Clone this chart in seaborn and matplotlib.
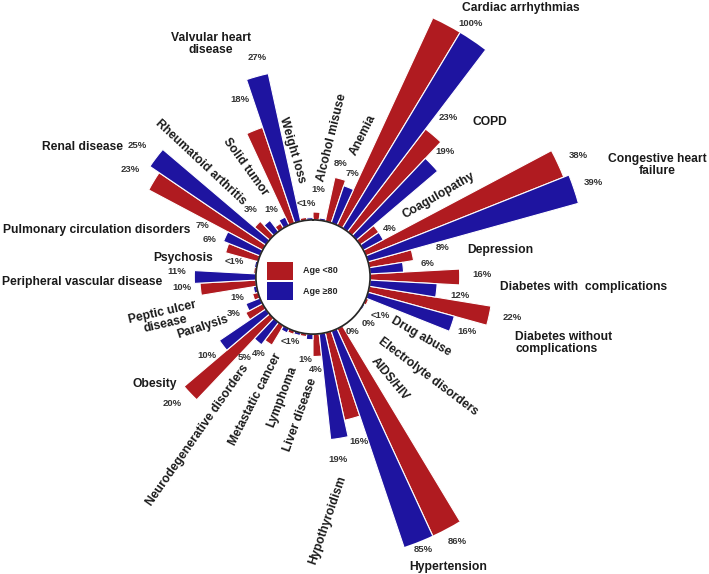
import numpy as np
import matplotlib
matplotlib.use("Agg")
import matplotlib.pyplot as plt
import seaborn as sns
from matplotlib.patches import Patch

# comorbidities, clockwise from the top
comorbidities = [
    "Alcohol misuse", "Anemia", "Cardiac arrhythmias", "COPD", "Coagulopathy",
    "Congestive heart failure", "Depression", "Diabetes with complications",
    "Diabetes without complications", "Drug abuse", "Electrolyte disorders",
    "AIDS/HIV", "Hypertension", "Hypothyroidism", "Liver disease", "Lymphoma",
    "Metastatic cancer", "Neurodegenerative disorders", "Obesity", "Paralysis",
    "Peptic ulcer disease", "Peripheral vascular disease", "Psychosis",
    "Pulmonary circulation disorders", "Renal disease", "Rheumatoid arthritis",
    "Solid tumor", "Valvular heart disease", "Weight loss",
]
# prevalence (%)
age_under_80 = [1.4, 8, 100, 23, 4, 38, 8, 16, 22, 0.5, 0, 0, 86, 16, 4, 0.5,
                0.6, 4, 20, 3.4, 1, 10, 0.4, 6, 23, 3.5, 1, 18, 0.5]
age_80_plus = [0.4, 7, 100, 19, 4, 39, 6, 12, 16, 0.3, 0, 0, 85, 19, 1, 0.5,
               0.8, 5, 10, 2.7, 0.6, 11, 0.4, 7, 25, 2.5, 1.6, 27, 0.4]
series_names = ["Age <80", "Age \u226580"]

# percentage labels as printed on the chart
value_labels = [
    ("1%", 318, 190), ("<1%", 306, 203), ("8%", 341, 163), ("7%", 353, 173),
    ("100%", 471, 23), ("23%", 448, 118), ("19%", 445, 152), ("4%", 390, 228),
    ("38%", 578, 155), ("39%", 593, 182), ("8%", 443, 248), ("6%", 428, 263),
    ("16%", 482, 275), ("12%", 460, 295), ("22%", 512, 318), ("16%", 467, 332),
    ("<1%", 380, 315), ("0%", 369, 323), ("0%", 353, 332),
    ("86%", 457, 542), ("85%", 423, 550), ("16%", 359, 442), ("19%", 338, 460),
    ("1%", 305, 359), ("4%", 316, 369), ("<1%", 290, 342),
    ("4%", 259, 353), ("5%", 245, 357), ("10%", 207, 356), ("20%", 172, 403),
    ("3%", 234, 313), ("1%", 237, 297), ("11%", 177, 272), ("10%", 182, 288),
    ("<1%", 234, 262), ("7%", 203, 225), ("6%", 210, 240),
    ("25%", 137, 145), ("23%", 130, 170), ("3%", 251, 210), ("1%", 271, 210),
    ("27%", 257, 58), ("18%", 240, 100),
]

# category label placement: display text, x px, y px, rotation, ha
label_layout = {
    "Alcohol misuse": ("Alcohol misuse", 332, 138, 76, "center"),
    "Anemia": ("Anemia", 363, 135, 63, "center"),
    "Cardiac arrhythmias": ("Cardiac arrhythmias", 521, 8, 0, "center"),
    "COPD": ("COPD", 490, 122, 0, "center"),
    "Coagulopathy": ("Coagulopathy", 439, 195, 30, "center"),
    "Congestive heart failure": ("Congestive heart\nfailure", 657, 165, 0, "center"),
    "Depression": ("Depression", 500, 250, 0, "center"),
    "Diabetes with complications": ("Diabetes with  complications", 584, 287, 0, "center"),
    "Diabetes without complications": ("Diabetes without\ncomplications", 515, 343, 0, "left"),
    "Drug abuse": ("Drug abuse", 421, 337, -30, "center"),
    "Electrolyte disorders": ("Electrolyte disorders", 428, 377, -37, "center"),
    "AIDS/HIV": ("AIDS/HIV", 390, 379, -50, "center"),
    "Hypertension": ("Hypertension", 448, 567, 0, "center"),
    "Hypothyroidism": ("Hypothyroidism", 328, 520, 71, "center"),
    "Liver disease": ("Liver disease", 300, 415, 70, "center"),
    "Lymphoma": ("Lymphoma", 282, 397, 69, "center"),
    "Metastatic cancer": ("Metastatic cancer", 255, 399, 63, "center"),
    "Neurodegenerative disorders": ("Neurodegenerative disorders", 198, 435, 55, "center"),
    "Obesity": ("Obesity", 155, 384, 0, "center"),
    "Paralysis": ("Paralysis", 203, 327, 18, "center"),
    "Peptic ulcer disease": ("Peptic ulcer\ndisease", 164, 318, 13, "center"),
    "Peripheral vascular disease": ("Peripheral vascular disease", 82, 282, 0, "center"),
    "Psychosis": ("Psychosis", 183, 258, 0, "center"),
    "Pulmonary circulation disorders": ("Pulmonary circulation disorders", 3, 230, 0, "left"),
    "Renal disease": ("Renal disease", 82, 147, 0, "center"),
    "Rheumatoid arthritis": ("Rheumatoid arthritis", 201, 162, -43, "center"),
    "Solid tumor": ("Solid tumor", 245, 167, -54, "center"),
    "Valvular heart disease": ("Valvular heart\ndisease", 211, 44, 0, "center"),
    "Weight loss": ("Weight loss", 292, 150, -74, "center"),
}

sns.set_theme(style="white")
plt.rcParams['font.family'] = ['Liberation Sans', 'DejaVu Sans']

colors = ["#B01B20", "#1E14A0"]
W, H = 709, 574
fig = plt.figure(figsize=(W / 100, H / 100), dpi=100)

# polar axes: centre and outer radius in pixels
cx, cy, R = 313, 277, 285
ax = fig.add_axes([(cx - R) / W, 1 - (cy + R) / H, 2 * R / W, 2 * R / H],
                  projection="polar")
ax.set_theta_zero_location("N")
ax.set_theta_direction(-1)

n = len(comorbidities)
slot = 2 * np.pi / n
idx = np.arange(n)
ax.bar(idx * slot + slot / 4, age_under_80, width=slot / 2, color=colors[0],
       edgecolor="white", linewidth=0.8, label=series_names[0])
ax.bar(idx * slot + 3 * slot / 4, age_80_plus, width=slot / 2, color=colors[1],
       edgecolor="white", linewidth=0.8, label=series_names[1])

# axis capped at ~40%, larger bars are clipped at the rim
ax.set_ylim(0, 40.7)
ax.set_rorigin(-10.2)
ax.set_xticks([])
ax.set_yticks([])
ax.grid(False)
ax.spines["polar"].set_visible(False)


def fpos(x, y):
    return x / W, 1 - y / H


for name in comorbidities:
    txt, x, y, rot, ha = label_layout[name]
    fig.text(*fpos(x, y), txt, ha=ha, va="center", rotation=rot,
             fontsize=8.7, fontweight="bold", color="#1a1a1a",
             linespacing=1.0, multialignment=ha)

for txt, x, y in value_labels:
    fig.text(*fpos(x, y), txt, ha="center", va="center", fontsize=6.8,
             fontweight="bold", color="#333333")

handles = [Patch(facecolor=c, edgecolor="none") for c in colors]
fig.legend(handles, series_names, loc="center", bbox_to_anchor=fpos(302, 281),
           frameon=False, prop={"size": 6.5, "weight": "bold"},
           handlelength=2.9, handleheight=2.7, labelspacing=0.3,
           handletextpad=1.1, borderpad=0)

fig.savefig("out.png", dpi=100, facecolor="white")
